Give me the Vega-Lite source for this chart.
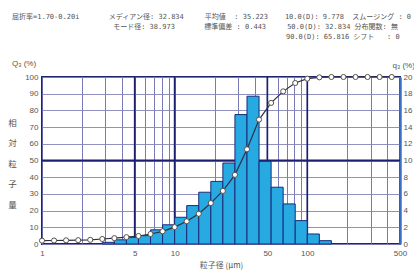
{
  "$schema": "https://vega.github.io/schema/vega-lite/v6.json",
  "width": 358,
  "height": 167,
  "autosize": {"type": "none"},
  "padding": {"left": 42, "top": 77, "right": 14, "bottom": 26},
  "background": "white",
  "title": {
    "text": [
      "\u200b屈折率=1.70-0.20i\u00a0\u00a0\u00a0\u00a0\u00a0\u00a0\u00a0メディアン径: 32.834\u00a0\u00a0\u00a0\u00a0\u00a0平均値\u00a0\u00a0: 35.223\u00a0\u00a0\u00a0\u00a010.0(D): 9.778\u00a0\u00a0スムージング : 0",
      "\u200b\u00a0\u00a0\u00a0\u00a0\u00a0\u00a0\u00a0\u00a0\u00a0\u00a0\u00a0\u00a0\u00a0\u00a0\u00a0\u00a0\u00a0\u00a0\u00a0\u00a0\u00a0\u00a0\u00a0\u00a0モード径: 38.973\u00a0\u00a0\u00a0\u00a0\u00a0\u00a0\u00a0標準偏差 : 0.443\u00a0\u00a0\u00a0\u00a0\u00a050.0(D): 32.834\u00a0分布関数: 無",
      "\u200b\u00a0\u00a0\u00a0\u00a0\u00a0\u00a0\u00a0\u00a0\u00a0\u00a0\u00a0\u00a0\u00a0\u00a0\u00a0\u00a0\u00a0\u00a0\u00a0\u00a0\u00a0\u00a0\u00a0\u00a0\u00a0\u00a0\u00a0\u00a0\u00a0\u00a0\u00a0\u00a0\u00a0\u00a0\u00a0\u00a0\u00a0\u00a0\u00a0\u00a0\u00a0\u00a0\u00a0\u00a0\u00a0\u00a0\u00a0\u00a0\u00a0\u00a0\u00a0\u00a0\u00a0\u00a0\u00a0\u00a0\u00a0\u00a0\u00a0\u00a0\u00a0\u00a0\u00a0\u00a0\u00a090.0(D): 65.816\u00a0シフト\u00a0\u00a0\u00a0: 0"
    ],
    "subtitle": "Q₃ (%)",
    "anchor": "start",
    "frame": "group",
    "dx": -30,
    "offset": -7,
    "font": "DejaVu Sans Mono, Noto Sans CJK JP",
    "fontSize": 7,
    "fontWeight": "normal",
    "color": "#555555",
    "lineHeight": 10,
    "subtitleFont": "Liberation Sans",
    "subtitleFontSize": 8,
    "subtitleColor": "#555555",
    "subtitlePadding": 20
  },
  "datasets": {
    "bars": [
      {"d": 2.848, "d2": 3.511, "q": 0.2},
      {"d": 3.511, "d2": 4.329, "q": 0.5},
      {"d": 4.329, "d2": 5.337, "q": 0.8},
      {"d": 5.337, "d2": 6.579, "q": 1.0},
      {"d": 6.579, "d2": 8.111, "q": 1.7},
      {"d": 8.111, "d2": 10.0, "q": 2.3},
      {"d": 10.0, "d2": 12.33, "q": 3.2},
      {"d": 12.33, "d2": 15.2, "q": 4.6},
      {"d": 15.2, "d2": 18.74, "q": 6.2},
      {"d": 18.74, "d2": 23.1, "q": 7.5},
      {"d": 23.1, "d2": 28.48, "q": 9.7},
      {"d": 28.48, "d2": 35.11, "q": 15.5},
      {"d": 35.11, "d2": 43.29, "q": 17.7},
      {"d": 43.29, "d2": 53.37, "q": 9.9},
      {"d": 53.37, "d2": 65.79, "q": 6.8},
      {"d": 65.79, "d2": 81.11, "q": 4.8},
      {"d": 81.11, "d2": 100.0, "q": 2.8},
      {"d": 100.0, "d2": 123.3, "q": 1.2},
      {"d": 123.3, "d2": 152.0, "q": 0.4}
    ],
    "cum": [
      {"d": 1.0, "Q": 2.0},
      {"d": 1.233, "Q": 2.1},
      {"d": 1.52, "Q": 2.2},
      {"d": 1.874, "Q": 2.3},
      {"d": 2.31, "Q": 2.5},
      {"d": 2.848, "Q": 3.0},
      {"d": 3.511, "Q": 3.5},
      {"d": 4.329, "Q": 4.1},
      {"d": 5.337, "Q": 4.8},
      {"d": 6.579, "Q": 6.0},
      {"d": 8.111, "Q": 7.6},
      {"d": 10.0, "Q": 10.1},
      {"d": 12.33, "Q": 13.6},
      {"d": 15.2, "Q": 18.1},
      {"d": 18.74, "Q": 24.5},
      {"d": 23.1, "Q": 31.8},
      {"d": 28.48, "Q": 41.4},
      {"d": 35.11, "Q": 56.7},
      {"d": 43.29, "Q": 74.5},
      {"d": 53.37, "Q": 84.5},
      {"d": 65.79, "Q": 91.4},
      {"d": 81.11, "Q": 96.4},
      {"d": 100.0, "Q": 99.0},
      {"d": 123.3, "Q": 99.8},
      {"d": 152.0, "Q": 100},
      {"d": 187.4, "Q": 100},
      {"d": 231.0, "Q": 100},
      {"d": 284.8, "Q": 100},
      {"d": 351.1, "Q": 100},
      {"d": 432.9, "Q": 100}
    ],
    "majors": [
      {"d": 5}, {"d": 10}, {"d": 50}, {"d": 100}
    ]
  },
  "encoding": {
    "x": {
      "field": "d",
      "type": "quantitative",
      "scale": {"type": "log", "domain": [1, 500], "nice": false},
      "axis": {
        "title": "粒子径 (μm)",
        "titleFont": "Noto Sans CJK JP",
        "titleFontSize": 8,
        "titleFontWeight": "normal",
        "titleColor": "#555555",
        "titlePadding": 4,
        "values": [1, 2, 3, 4, 5, 6, 7, 8, 9, 10, 20, 30, 40, 50, 60, 70, 80, 90, 100, 200, 300, 400, 500],
        "labelExpr": "indexof([1,5,10,50,100,500], datum.value) >= 0 ? format(datum.value, 'd') : ''",
        "labelOverlap": false,
        "labelFlush": false,
        "labelBound": false,
        "labelFont": "Liberation Sans",
        "labelFontSize": 8,
        "labelColor": "#555555",
        "labelPadding": 5,
        "ticks": false,
        "domain": false,
        "grid": true,
        "gridColor": "#6b6bb0",
        "gridWidth": 0.9,
        "gridOpacity": 1
      }
    }
  },
  "layer": [
    {
      "data": {"name": "majors"},
      "mark": {"type": "rule", "color": "#1c1f6e", "strokeWidth": 1.7},
      "encoding": {}
    },
    {
      "data": {"values": [{}]},
      "mark": {"type": "rule", "color": "#1c1f6e", "strokeWidth": 1.9},
      "encoding": {
        "x": null,
        "y": {"datum": 50, "type": "quantitative", "scale": {"domain": [0, 100], "nice": false}, "axis": null}
      }
    },
    {
      "data": {"name": "bars"},
      "mark": {"type": "rect", "fill": "#27a9e1", "stroke": "#1a2b7a", "strokeWidth": 1},
      "encoding": {
        "x2": {"field": "d2"},
        "y": {
          "field": "q",
          "type": "quantitative",
          "scale": {"domain": [0, 20], "nice": false},
          "axis": {
            "orient": "right",
            "values": [0, 2, 4, 6, 8, 10, 12, 14, 16, 18, 20],
            "grid": false,
            "ticks": false,
            "domain": true,
            "domainColor": "#3a70c8",
            "domainWidth": 2.5,
            "labelFont": "Liberation Sans",
            "labelFontSize": 8,
            "labelColor": "#555555",
            "labelPadding": 3,
            "title": "q₃ (%)",
            "titleAngle": 0,
            "titleX": -8,
            "titleY": -12,
            "titleAlign": "left",
            "titleBaseline": "middle",
            "titleFont": "Liberation Sans",
            "titleFontSize": 8,
            "titleFontWeight": "normal",
            "titleColor": "#555555"
          }
        },
        "y2": {"datum": 0}
      }
    },
    {
      "data": {"name": "cum"},
      "encoding": {
        "y": {
          "field": "Q",
          "type": "quantitative",
          "scale": {"domain": [0, 100], "nice": false},
          "axis": {
            "orient": "left",
            "values": [0, 10, 20, 30, 40, 50, 60, 70, 80, 90, 100],
            "grid": true,
            "gridColor": "#8585b8",
            "gridWidth": 0.9,
            "gridOpacity": 1,
            "ticks": false,
            "domain": false,
            "labelFont": "Liberation Sans",
            "labelFontSize": 8,
            "labelColor": "#555555",
            "labelPadding": 4,
            "title": ["相", "対", "粒", "子", "量"],
            "titleAngle": 0,
            "titleX": -30,
            "titleY": 45,
            "titleAlign": "center",
            "titleBaseline": "middle",
            "titleLineHeight": 20.5,
            "titleFont": "Noto Sans CJK JP",
            "titleFontSize": 8.5,
            "titleFontWeight": "normal",
            "titleColor": "#555555"
          }
        }
      },
      "layer": [
        {"mark": {"type": "line", "color": "#2f2f45", "strokeWidth": 1.2}},
        {"mark": {"type": "point", "shape": "circle", "filled": true, "fill": "white", "stroke": "#5a5048", "strokeWidth": 1, "size": 26, "opacity": 1}}
      ]
    }
  ],
  "resolve": {"scale": {"y": "independent"}},
  "config": {
    "view": {"stroke": "#1e2470", "strokeWidth": 2}
  }
}
